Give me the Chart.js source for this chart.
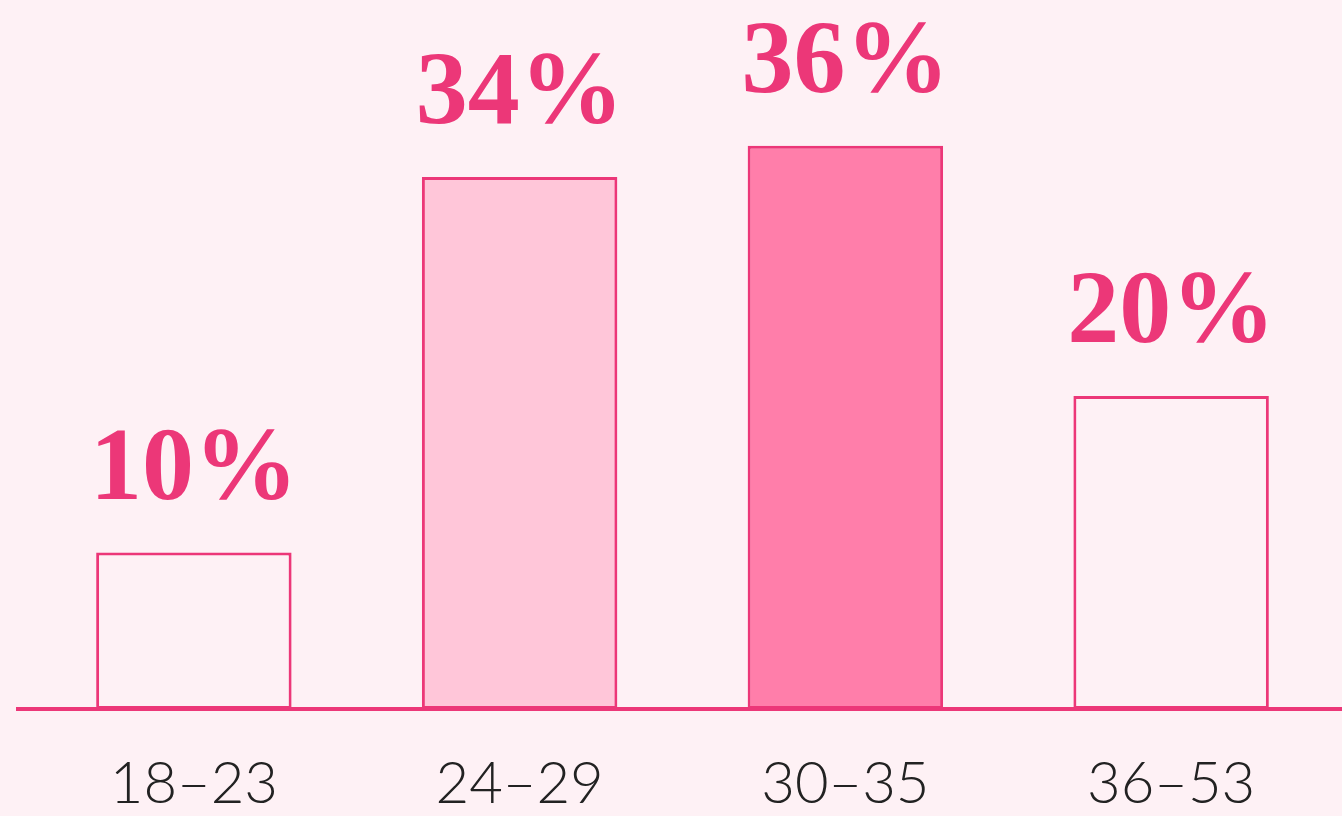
<!DOCTYPE html>
<html>
<head>
<meta charset="utf-8">
<script src="https://cdn.jsdelivr.net/npm/chart.js@4/dist/chart.umd.min.js"></script>
<style>
  html, body { margin: 0; padding: 0; background: #fef1f5; }
  #wrap { width: 1342px; height: 816px; }
</style>
</head>
<body>
<div id="wrap"><canvas id="c" width="1342" height="816"></canvas></div>
<script>
// Age groups and share of respondents (%)
const ageGroups = ['18–23', '24–29', '30–35', '36–53'];
const shares = [10, 34, 36, 20];
const valueLabels = ['10%', '34%', '36%', '20%'];

const PINK = '#ec3778';
const BG = '#fef1f5';
const fills = [BG, '#ffc6d9', '#ff7eaa', BG];

// Pink baseline running across the full width at zero
const baselinePlugin = {
  id: 'baseline',
  afterDatasetsDraw(chart) {
    const ctx = chart.ctx;
    const y = chart.scales.y.getPixelForValue(0);
    ctx.save();
    ctx.strokeStyle = PINK;
    ctx.lineWidth = 4;
    ctx.beginPath();
    ctx.moveTo(16, y);
    ctx.lineTo(chart.width, y);
    ctx.stroke();
    ctx.restore();
  }
};

// Percentage labels above each bar
const valueLabelPlugin = {
  id: 'valueLabels',
  afterDatasetsDraw(chart) {
    const ctx = chart.ctx;
    const meta = chart.getDatasetMeta(0);
    ctx.save();
    ctx.fillStyle = PINK;
    ctx.font = 'bold 104px "Liberation Serif", serif';
    ctx.textAlign = 'center';
    ctx.textBaseline = 'alphabetic';
    meta.data.forEach((bar, i) => {
      ctx.fillText(valueLabels[i], bar.x, bar.y - 54);
    });
    ctx.restore();
  }
};

new Chart(document.getElementById('c'), {
  type: 'bar',
  data: {
    labels: ageGroups,
    datasets: [{
      data: shares,
      backgroundColor: fills,
      borderColor: PINK,
      borderWidth: 3,
      borderSkipped: false,
      categoryPercentage: 1,
      barPercentage: 0.6
    }]
  },
  options: {
    responsive: false,
    animation: false,
    layout: { padding: { left: 31, right: 8, top: 5, bottom: 0 } },
    plugins: { legend: { display: false }, tooltip: { enabled: false } },
    scales: {
      y: {
        display: false,
        min: 0,
        max: 45
      },
      x: {
        grid: { display: false, drawTicks: false },
        border: { display: false },
        ticks: {
          color: '#222222',
          padding: 40,
          font: { family: 'Lato', size: 58, weight: 300 }
        },
        afterFit(scale) { scale.height = 107; }
      }
    }
  },
  plugins: [baselinePlugin, valueLabelPlugin]
});
</script>
</body>
</html>
